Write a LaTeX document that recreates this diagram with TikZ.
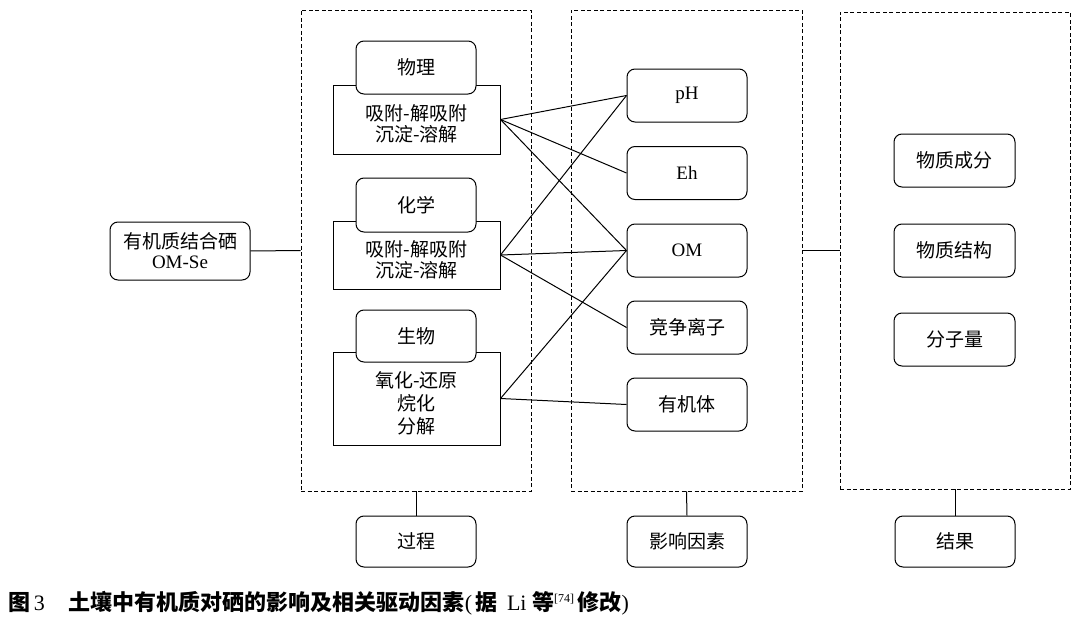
\documentclass[tikz,border=0pt]{standalone}
\usepackage{fontspec}
\setmainfont{Liberation Serif}
\newfontfamily\cjk{Noto Sans CJK SC}
\begin{document}
\begin{tikzpicture}[x=1pt,y=-1pt,
  every node/.style={font=\fontsize{19}{21}\selectfont},
  rbox/.style={draw, line width=1pt, rounded corners=8pt, fill=white, inner sep=0pt, align=center},
  sbox/.style={draw, line width=1pt, fill=white, inner sep=0pt},
  dashbox/.style={draw, line width=0.9pt, dash pattern=on 4pt off 2.5pt, inner sep=0pt},
  conn/.style={line width=1pt},
  txt/.style={inner sep=0pt, align=center}]
\useasboundingbox (0,0) rectangle (1080,621);
% dashed groups
\node[dashbox, minimum width=230pt, minimum height=481pt] (g1) at (416,250.5) {};
\node[dashbox, minimum width=231pt, minimum height=481pt] (g2) at (686.5,250.5) {};
\node[dashbox, minimum width=230pt, minimum height=477pt] (g3) at (955,250.5) {};
% left node
\node[rbox, minimum width=140pt, minimum height=58pt] (om) at (180,251) {\cjk 有机质结合硒\\[-1pt]OM-Se};
% process boxes
\node[sbox, minimum width=167pt, minimum height=69pt] (r1) at (416.5,119.5) {};
\node[rbox, minimum width=120pt, minimum height=53pt] (t1) at (416,67.5) {\cjk 物理};
\node[txt] (x1) at (416.5,124) {\cjk 吸附-解吸附\\[0pt]\cjk 沉淀-溶解};
\node[sbox, minimum width=167pt, minimum height=68pt] (r2) at (416.5,255) {};
\node[rbox, minimum width=120pt, minimum height=54pt] (t2) at (416,205) {\cjk 化学};
\node[txt] (x2) at (416.5,260) {\cjk 吸附-解吸附\\[0pt]\cjk 沉淀-溶解};
\node[sbox, minimum width=167pt, minimum height=93pt] (r3) at (416.5,398.5) {};
\node[rbox, minimum width=120pt, minimum height=52pt] (t3) at (416,336) {\cjk 生物};
\node[txt] (x3) at (416.5,403) {\cjk 氧化-还原\\[2pt]\cjk 烷化\\[2pt]\cjk 分解};
% factors
\node[rbox, minimum width=120pt, minimum height=53pt] (ph) at (687,95.5) {pH};
\node[rbox, minimum width=120pt, minimum height=53pt] (eh) at (687,173) {Eh};
\node[rbox, minimum width=120pt, minimum height=53pt] (omf) at (687,250.5) {OM};
\node[rbox, minimum width=120pt, minimum height=53pt] (ion) at (687,327.5) {\cjk 竞争离子};
\node[rbox, minimum width=120pt, minimum height=53pt] (org) at (687,404.5) {\cjk 有机体};
% results
\node[rbox, minimum width=121pt, minimum height=53pt] (c1) at (954.5,160.5) {\cjk 物质成分};
\node[rbox, minimum width=121pt, minimum height=53pt] (c2) at (954.5,250.5) {\cjk 物质结构};
\node[rbox, minimum width=121pt, minimum height=53pt] (c3) at (954.5,339.5) {\cjk 分子量};
% bottom labels
\node[rbox, minimum width=120pt, minimum height=51pt] (b1) at (416,541.5) {\cjk 过程};
\node[rbox, minimum width=120pt, minimum height=51pt] (b2) at (687,541.5) {\cjk 影响因素};
\node[rbox, minimum width=120pt, minimum height=51pt] (b3) at (955,541.5) {\cjk 结果};
% connectors
\draw[conn] (om.east) -- (g1.west);
\draw[conn] (g2.east) -- (g3.west);
\draw[conn] (g1.south) -- (b1.north);
\draw[conn] (g2.south) -- (b2.north);
\draw[conn] (g3.south) -- (b3.north);
\draw[conn] (r1.east) -- (ph.west);
\draw[conn] (r1.east) -- (eh.west);
\draw[conn] (r1.east) -- (omf.west);
\draw[conn] (r2.east) -- (ph.west);
\draw[conn] (r2.east) -- (omf.west);
\draw[conn] (r2.east) -- (ion.west);
\draw[conn] (r3.east) -- (omf.west);
\draw[conn] (r3.east) -- (org.west);
% caption
\node[inner sep=0pt, anchor=west, font=\fontsize{22}{24}\selectfont\bfseries] (cap) at (8,603)
  {\cjk 图\,{\rmfamily\mdseries 3}\hspace{24pt}土壤中有机质对硒的影响及相关驱动因素{\rmfamily\mdseries (\,}据\,{\rmfamily\mdseries\ Li\ }等\raisebox{8pt}{\rmfamily\mdseries\fontsize{12}{12}\selectfont[74]}\,修改{\rmfamily\mdseries )}};
\end{tikzpicture}
\end{document}
